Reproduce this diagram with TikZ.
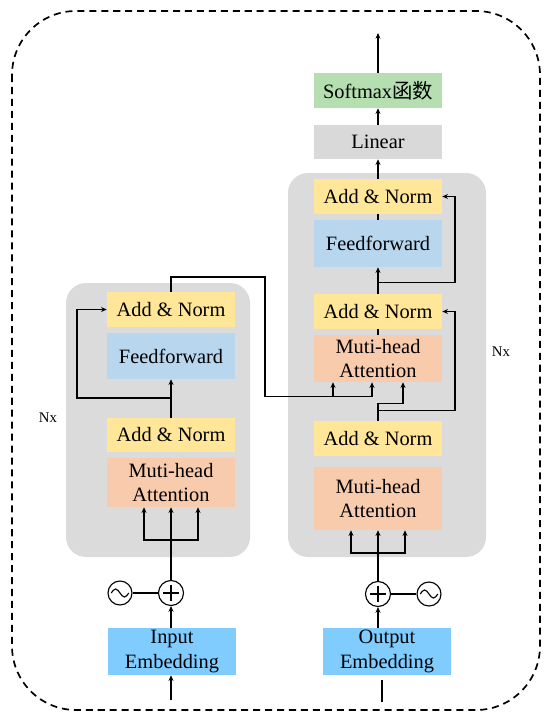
\documentclass[tikz,border=0pt]{standalone}
\usepackage{fontspec}
\setmainfont{Liberation Serif}
\newfontfamily\cjk{Noto Sans CJK SC}
\usetikzlibrary{calc,arrows.meta}

\definecolor{amarillo}{HTML}{FFE699}
\definecolor{celeste}{HTML}{B8D7EF}
\definecolor{salmon}{HTML}{F8CBAD}
\definecolor{verde}{HTML}{B5DFB0}
\definecolor{gris}{HTML}{D9D9D9}
\definecolor{panel}{HTML}{DBDBDB}
\definecolor{azul}{HTML}{80CCFF}

\begin{document}
\begin{tikzpicture}[x=0.025cm,y=-0.025cm,
    caja/.style={minimum width=3.2cm, inner sep=0pt, align=center,
      font=\fontsize{14.5}{17.5}\selectfont},
    flecha/.style={-{Stealth[length=4pt,width=3.5pt]}, line width=0.9pt},
    linea/.style={line width=0.9pt},
    suma/.style={circle, draw, line width=0.8pt, minimum size=0.625cm, inner sep=0pt,
      path picture={\draw[line width=1.3pt]
        ([xshift=-0.19cm]path picture bounding box.center) -- ([xshift=0.19cm]path picture bounding box.center)
        ([yshift=-0.19cm]path picture bounding box.center) -- ([yshift=0.19cm]path picture bounding box.center);}},
    onda/.style={circle, draw, line width=0.8pt, minimum size=0.6cm, inner sep=0pt,
      path picture={\draw[line width=0.8pt]
        ([xshift=-0.22cm]path picture bounding box.center) sin ++(0.11cm,0.1cm) cos ++(0.11cm,-0.1cm)
        sin ++(0.11cm,-0.1cm) cos ++(0.11cm,0.1cm);}},
  ]
    \useasboundingbox (0,0) rectangle (550,723);
    % Contorno
    \draw[line width=1.2pt, dash pattern=on 5pt off 3.5pt, rounded corners=1.6cm] (12,11) rectangle (540,710);
    % Paneles
    \fill[panel, rounded corners=0.5cm] (66,283) rectangle (250,557);
    \fill[panel, rounded corners=0.5cm] (288,173) rectangle (486,557);
    % Codificador
    \node[caja, fill=amarillo, minimum height=0.875cm] (en_an2) at (171,309.5) {Add \& Norm};
    \node[caja, fill=celeste, minimum height=1.15cm] (en_ff) at (171,356) {Feedforward};
    \node[caja, fill=amarillo, minimum height=0.85cm] (en_an1) at (171,435) {Add \& Norm};
    \node[caja, fill=salmon, minimum height=1.225cm] (en_att) at (171,482.5) {Muti-head\\Attention};
    \node[caja, fill=azul, minimum height=1.175cm] (in_emb) at (172,651.5) {Input\\Embedding};
    \node[suma] (en_plus) at (171,593) {};
    \node[onda] (en_sin) at (120,593) {};
    \node[font=\fontsize{10.5}{12}\selectfont] (nx_en) at (48,418) {Nx};
    % Decodificador
    \node[caja, fill=verde, minimum height=0.875cm] (softmax) at (378,90.5) {Softmax{\cjk 函数}};
    \node[caja, fill=gris, minimum height=0.85cm] (linear) at (378,142) {Linear};
    \node[caja, fill=amarillo, minimum height=0.875cm] (de_an3) at (378,196.5) {Add \& Norm};
    \node[caja, fill=celeste, minimum height=1.175cm] (de_ff) at (378,243.5) {Feedforward};
    \node[caja, fill=amarillo, minimum height=0.875cm] (de_an2) at (378,311.5) {Add \& Norm};
    \node[caja, fill=salmon, minimum height=1.175cm] (de_att2) at (378,358.5) {Muti-head\\Attention};
    \node[caja, fill=amarillo, minimum height=0.875cm] (de_an1) at (378,438.5) {Add \& Norm};
    \node[caja, fill=salmon, minimum height=1.575cm] (de_att1) at (378,498.5) {Muti-head\\Attention};
    \node[caja, fill=azul, minimum height=1.175cm] (out_emb) at (387,651.5) {Output\\Embedding};
    \node[suma] (de_plus) at (378,594) {};
    \node[onda] (de_sin) at (429,594) {};
    \node[font=\fontsize{10.5}{12}\selectfont] (nx_de) at (501,352) {Nx};
    % Puntos auxiliares
    \coordinate (in_src) at (171,700);
    \coordinate (en_br) at (171,540);
    \coordinate (en_res) at (171,398);
    \coordinate (en_lado) at (77,0);
    \coordinate (out_src) at (382,702);
    \coordinate (de_br) at (378,553);
    \coordinate (de_lado) at (455,0);
    \coordinate (sal) at (378,33);
    % Conexiones del codificador
    \draw[flecha] (in_src) -- (in_src |- in_emb.south);
    \draw[flecha] (en_plus |- in_emb.north) -- (en_plus.south);
    \draw[linea] (en_sin) -- (en_plus);
    \draw[linea] (en_plus.north) -- (en_br);
    \draw[flecha] (en_br) -- (en_att.south);
    \draw[flecha] (en_br) -| ($(en_att.south)+(-27,0)$);
    \draw[flecha] (en_br) -| ($(en_att.south)+(27,0)$);
    \draw[flecha] (en_an1.north) -- (en_ff.south);
    \draw[flecha] (en_res) -| (en_lado |- en_an2.west) -- (en_an2.west);
    \draw[flecha] (en_an2.north) |- (265,277) |- ($(de_att2.south)+(-6,14)$) -- ($(de_att2.south)+(-6,0)$);
    \draw[flecha] ($(de_att2.south)+(-45,14)$) -- ($(de_att2.south)+(-45,0)$);
    % Conexiones del decodificador
    \draw[linea] (out_src) -- ($(out_src |- out_emb.south)+(0,5)$);
    \draw[flecha] (de_plus |- out_emb.north) -- (de_plus.south);
    \draw[linea] (de_plus) -- (de_sin);
    \draw[linea] (de_plus.north) -- (de_br);
    \draw[flecha] (de_br) -- (de_att1.south);
    \draw[flecha] (de_br) -| ($(de_att1.south)+(-27,0)$);
    \draw[flecha] (de_br) -| ($(de_att1.south)+(27,0)$);
    \draw[flecha] (de_an1.north) |- ($(de_att2.south)+(25,21)$) -- ($(de_att2.south)+(25,0)$);
    \draw[flecha] ($(de_an1.north)+(0,-10)$) -| (de_lado |- de_an2.east) -- (de_an2.east);
    \draw[linea] (de_att2.north) -- (de_an2.south);
    \draw[flecha] (de_an2.north) -- (de_ff.south);
    \draw[flecha] ($(de_an2.north)+(0,-11)$) -| (de_lado |- de_an3.east) -- (de_an3.east);
    \draw[linea] (de_ff.north) -- (de_an3.south);
    \draw[flecha] (de_an3.north) -- (linear.south);
    \draw[flecha] (linear.north) -- (softmax.south);
    \draw[flecha] (softmax.north) -- (sal);
\end{tikzpicture}
\end{document}
